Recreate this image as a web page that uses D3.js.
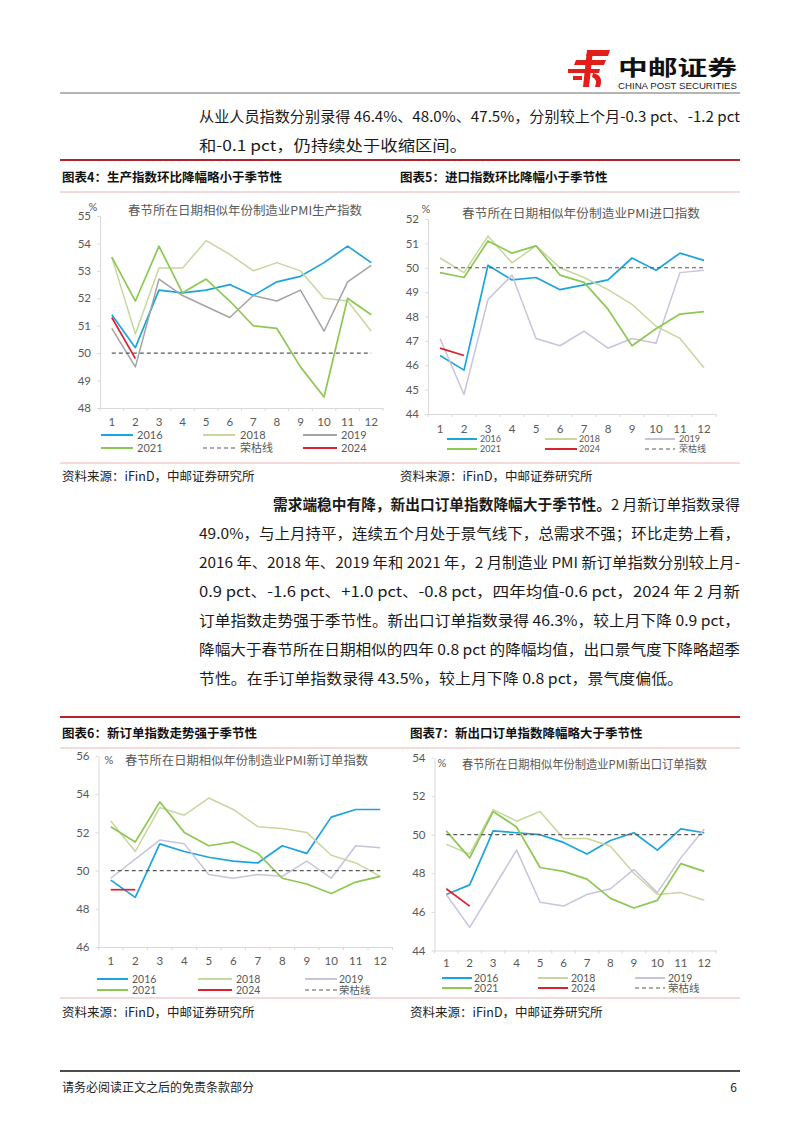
<!DOCTYPE html>
<html><head><meta charset="utf-8">
<script src="https://cdn.jsdelivr.net/npm/d3@7"></script>
<style>body{margin:0;background:#fff;} svg{display:block;}</style>
</head><body>
<svg id="page" width="802" height="1133"></svg>
<script>
// ---------- data ----------
const months = ["1","2","3","4","5","6","7","8","9","10","11","12"];
const threshold = 50;
// 图表4 生产指数
const prod2016 = [51.4,50.2,52.3,52.2,52.3,52.5,52.1,52.6,52.8,53.3,53.9,53.3];
const prod2018 = [53.5,50.7,53.1,53.1,54.1,53.6,53.0,53.3,53.0,52.0,51.9,50.8];
const prod2019 = [50.9,49.5,52.7,52.1,51.7,51.3,52.1,51.9,52.3,50.8,52.6,53.2];
const prod2021 = [53.5,51.9,53.9,52.2,52.7,51.9,51.0,50.9,49.5,48.4,52.0,51.4];
const prod2024 = [51.3,49.8];
const prodTicks = [48,49,50,51,52,53,54,55];
// 图表5 进口指数
const imp2016 = [46.4,45.8,50.1,49.5,49.6,49.1,49.3,49.5,50.4,49.9,50.6,50.3];
const imp2018 = [50.4,49.8,51.3,50.2,50.9,50.0,49.6,49.1,48.5,47.6,47.1,45.9];
const imp2019 = [47.1,44.8,48.7,49.7,47.1,46.8,47.4,46.7,47.1,46.9,49.8,49.9];
const imp2021 = [49.8,49.6,51.1,50.6,50.9,49.7,49.4,48.3,46.8,47.5,48.1,48.2];
const imp2024 = [46.7,46.4];
const impTicks = [44,45,46,47,48,49,50,51,52];
// 图表6 新订单指数
const ord2016 = [49.5,48.6,51.4,51.0,50.7,50.5,50.4,51.3,50.9,52.8,53.2,53.2];
const ord2018 = [52.6,51.0,53.3,52.9,53.8,53.2,52.3,52.2,52.0,50.8,50.4,49.7];
const ord2019 = [49.6,50.6,51.6,51.4,49.8,49.6,49.8,49.7,50.5,49.6,51.3,51.2];
const ord2021 = [52.3,51.5,53.6,52.0,51.3,51.5,50.9,49.6,49.3,48.8,49.4,49.7];
const ord2024 = [49.0,49.0];
const ordTicks = [46,48,50,52,54,56];
// 图表7 新出口订单指数
const exp2016 = [46.9,47.4,50.2,50.1,50.0,49.6,49.0,49.7,50.1,49.2,50.3,50.1];
const exp2018 = [49.5,49.0,51.3,50.7,51.2,49.8,49.8,49.4,48.0,46.9,47.0,46.6];
const exp2019 = [46.9,45.2,47.2,49.2,46.5,46.3,46.9,47.2,48.2,47.0,48.8,50.3];
const exp2021 = [50.2,48.8,51.2,50.4,48.3,48.1,47.7,46.7,46.2,46.6,48.5,48.1];
const exp2024 = [47.2,46.3];
const expTicks = [44,46,48,50,52,54];

// ---------- styles ----------
const CJK = "'Noto Sans CJK SC', sans-serif";
const NUM = "Lato, 'Noto Sans CJK SC', sans-serif";
const col = {y2016:"#1ca4de", y2018:"#c6d79f", y2019g:"#a3a3a3", y2019l:"#c9c3db", y2021:"#8dc852", y2024:"#de1f30", dash:"#595959"};

const svg = d3.select("#page");
svg.append("rect").attr("width",802).attr("height",1133).attr("fill","#fff");

// ---------- header / logo ----------
const logo = svg.append("g").attr("transform","translate(568,50)").attr("fill","#e31d1a");
[
  "M20,0 L42,0 L40,6 L18,6 Z",
  "M8,10 L38,10 L36,15 L6,15 Z",
  "M0,19 L32,19 L31,23 L0,23 Z",
  "M5,26 L14,26 L14,30 L5,30 Z",
  "M19,0 L25,0 L21,37 L15,37 Z",
  "M25,23 Q36,25 32,37 L27,37 Q30,29 24,27 Z"
].forEach(p=>logo.append("path").attr("d",p));
svg.append("text").attr("x",618).attr("y",75).attr("textLength",119).attr("lengthAdjust","spacingAndGlyphs")
  .style("font-family",CJK).style("font-weight","bold").style("font-size","21px").attr("fill","#111").text("中邮证券");
svg.append("text").attr("x",618).attr("y",89).attr("textLength",119).attr("lengthAdjust","spacingAndGlyphs")
  .style("font-family","'Liberation Sans', Arial, sans-serif").style("font-size","9px").attr("fill","#222").text("CHINA POST SECURITIES");
svg.append("line").attr("x1",60).attr("x2",740).attr("y1",93).attr("y2",93).attr("stroke","#444").attr("stroke-width",0.8);

// ---------- body text ----------
function textLine(x, y, parts, len) {
  const t = svg.append("text").attr("x",x).attr("y",y).style("font-family",CJK).style("font-size","14.5px").attr("fill","#1a1a1a");
  if (len) t.attr("textLength",len).attr("lengthAdjust","spacingAndGlyphs");
  parts.forEach(p=>{
    const s = t.append("tspan").text(p.t);
    if (p.b) s.style("font-weight","bold");
  });
}
textLine(199,122,[{t:"从业人员指数分别录得 46.4%、48.0%、47.5%，分别较上个月-0.3 pct、-1.2 pct"}],541);
textLine(199,151,[{t:"和-0.1 pct，仍持续处于收缩区间。"}],268);

const p2 = [
  {x:273, len:467, parts:[{t:"需求端稳中有降，新出口订单指数降幅大于季节性。",b:true},{t:"2 月新订单指数录得"}]},
  {x:199, len:541, parts:[{t:"49.0%，与上月持平，连续五个月处于景气线下，总需求不强；环比走势上看，"}]},
  {x:199, len:541, parts:[{t:"2016 年、2018 年、2019 年和 2021 年，2 月制造业 PMI 新订单指数分别较上月-"}]},
  {x:199, len:541, parts:[{t:"0.9 pct、-1.6 pct、+1.0 pct、-0.8 pct，四年均值-0.6 pct，2024 年 2 月新"}]},
  {x:199, len:541, parts:[{t:"订单指数走势强于季节性。新出口订单指数录得 46.3%，较上月下降 0.9  pct，"}]},
  {x:199, len:541, parts:[{t:"降幅大于春节所在日期相似的四年 0.8 pct 的降幅均值，出口景气度下降略超季"}]},
  {x:199, len:484, parts:[{t:"节性。在手订单指数录得 43.5%，较上月下降 0.8 pct，景气度偏低。"}]}
];
p2.forEach((l,i)=>textLine(l.x, 510+i*29, l.parts, l.len));

// ---------- section rules / captions ----------
function section(topY, titleY, pinkY, bottomPinkY, srcY, t1, t2, x2, src2x) {
  svg.append("line").attr("x1",60).attr("x2",740).attr("y1",topY).attr("y2",topY).attr("stroke","#b3232b").attr("stroke-width",2);
  svg.append("line").attr("x1",60).attr("x2",740).attr("y1",pinkY).attr("y2",pinkY).attr("stroke","#eab4b6").attr("stroke-width",1);
  svg.append("line").attr("x1",60).attr("x2",740).attr("y1",bottomPinkY).attr("y2",bottomPinkY).attr("stroke","#eab4b6").attr("stroke-width",1);
  [[62,t1],[x2,t2]].forEach(([x,t])=>svg.append("text").attr("x",x).attr("y",titleY).style("font-family",CJK)
    .style("font-size","12.5px").style("font-weight","bold").attr("fill","#111").text(t));
  [[62],[src2x]].forEach(([x])=>svg.append("text").attr("x",x).attr("y",srcY).style("font-family",CJK)
    .style("font-size","12.5px").attr("fill","#222").text("资料来源：iFinD，中邮证券研究所"));
}
section(160,182,192,463,481,"图表4：生产指数环比降幅略小于季节性","图表5：进口指数环比降幅小于季节性",400,400);
section(717,738,748,998,1017,"图表6：新订单指数走势强于季节性","图表7：新出口订单指数降幅略大于季节性",410,410);

// ---------- footer ----------
svg.append("line").attr("x1",60).attr("x2",740).attr("y1",1071).attr("y2",1071).attr("stroke","#111").attr("stroke-width",1.5);
svg.append("text").attr("x",62).attr("y",1092).style("font-family",CJK).style("font-size","12px").attr("fill","#222").text("请务必阅读正文之后的免责条款部分");
svg.append("text").attr("x",737).attr("y",1092).attr("text-anchor","end").style("font-family",CJK).style("font-size","12px").attr("fill","#222").text("6");

// ---------- charts ----------
function drawChart(cfg) {
  const g = svg.append("g");
  const x = d3.scaleBand().domain(months).range(cfg.xr);
  const y = d3.scaleLinear().domain(cfg.yd).range(cfg.yr);
  const cx = m => x(m) + x.bandwidth()/2;

  const ga = g.append("g").attr("transform",`translate(${cfg.xr[0]},0)`)
    .call(d3.axisLeft(y).tickValues(cfg.ticks).tickSize(3).tickSizeOuter(0).tickPadding(cfg.yPad).tickFormat(d3.format("d")));
  ga.select(".domain").attr("stroke","#d9d9d9");
  ga.selectAll(".tick line").attr("stroke","#d9d9d9");
  ga.selectAll(".tick text").attr("fill","#595959").style("font-size","11.5px").style("font-family",NUM);

  const gx = g.append("g").attr("transform",`translate(0,${cfg.yr[0]})`)
    .call(d3.axisBottom(x).tickSize(0).tickSizeOuter(0).tickPadding(cfg.xPad));
  gx.select(".domain").attr("stroke","#d9d9d9");
  gx.selectAll(".tick text").attr("fill","#595959").style("font-size","11.5px").style("font-family",NUM);
  g.selectAll("line.bt").data(months.concat(["end"])).join("line").attr("class","bt")
    .attr("x1",d=>d==="end"?cfg.xr[1]:x(d)).attr("x2",d=>d==="end"?cfg.xr[1]:x(d))
    .attr("y1",cfg.yr[0]).attr("y2",cfg.yr[0]+3).attr("stroke","#d9d9d9");

  const line = d3.line().x((d,i)=>cx(months[i])).y(d=>y(d));
  cfg.series.forEach(s=>{
    if (s.dash) {
      g.append("line").attr("x1",cx(months[0])).attr("x2",cx(months[months.length-1]))
        .attr("y1",y(threshold)).attr("y2",y(threshold)).attr("stroke",s.color).attr("stroke-width",1.2).attr("stroke-dasharray","4,3");
    } else {
      g.append("path").datum(s.values).attr("d",line).attr("fill","none").attr("stroke",s.color)
        .attr("stroke-width",s.w).attr("stroke-linejoin","round");
    }
  });

  // unit and title
  g.append("text").attr("x",cfg.pct[0]).attr("y",cfg.pct[1]).attr("text-anchor","middle").style("font-family",NUM)
    .style("font-size","11px").attr("fill","#595959").text("%");
  g.append("text").attr("x",cfg.title[0]).attr("y",cfg.title[1]).attr("textLength",cfg.title[2]).attr("lengthAdjust","spacingAndGlyphs")
    .style("font-family",CJK).style("font-size","12px").attr("fill","#595959").text(cfg.title[3]);

  // legend
  cfg.legend.forEach(l=>{
    const s = cfg.series.find(d=>d.name===l.name);
    const yy = cfg.legRows[l.row];
    const c = cfg.legCols[l.col];
    g.append("line").attr("x1",c[0]).attr("x2",c[1]).attr("y1",yy).attr("y2",yy).attr("stroke",s.color)
      .attr("stroke-width",s.dash?1.2:2).attr("stroke-dasharray",s.dash?"4,3":null);
    g.append("text").attr("x",c[2]).attr("y",yy).attr("dy","0.35em").style("font-family",NUM)
      .style("font-size",cfg.legFont).attr("fill","#595959").text(s.name);
  });
}

function mkSeries(a16,a18,a19,a21,a24,c19){
  return [
    {name:"2016",values:a16,color:col.y2016,w:1.7},
    {name:"2018",values:a18,color:col.y2018,w:1.5},
    {name:"2019",values:a19,color:c19,w:1.5},
    {name:"2021",values:a21,color:col.y2021,w:1.7},
    {name:"荣枯线",dash:true,color:col.dash},
    {name:"2024",values:a24,color:col.y2024,w:1.7}
  ];
}
const legA = [{name:"2016",row:0,col:0},{name:"2018",row:0,col:1},{name:"2019",row:0,col:2},
              {name:"2021",row:1,col:0},{name:"荣枯线",row:1,col:1},{name:"2024",row:1,col:2}];
const legB = [{name:"2016",row:0,col:0},{name:"2018",row:0,col:1},{name:"2019",row:0,col:2},
              {name:"2021",row:1,col:0},{name:"2024",row:1,col:1},{name:"荣枯线",row:1,col:2}];

drawChart({xr:[100,383], yd:[48,55], yr:[408,216], ticks:prodTicks, yPad:6, xPad:10,
  series:mkSeries(prod2016,prod2018,prod2019,prod2021,prod2024,col.y2019g),
  pct:[93,211], title:[128,215,234,"春节所在日期相似年份制造业PMI生产指数"],
  legend:legA, legRows:[435,448], legCols:[[101,133,137],[203,235,240],[303,337,341]], legFont:"11px"});

drawChart({xr:[428,716], yd:[44,52], yr:[414,219], ticks:impTicks, yPad:6, xPad:11,
  series:mkSeries(imp2016,imp2018,imp2019,imp2021,imp2024,col.y2019l),
  pct:[426,213], title:[462,218,238,"春节所在日期相似年份制造业PMI进口指数"],
  legend:legB, legRows:[439,449], legCols:[[447,477,480],[545,577,579],[645,675,679]], legFont:"9px"});

drawChart({xr:[98.5,392.5], yd:[46,56], yr:[947,756], ticks:ordTicks, yPad:6, xPad:10,
  series:mkSeries(ord2016,ord2018,ord2019,ord2021,ord2024,col.y2019l),
  pct:[109,764], title:[125,765,243,"春节所在日期相似年份制造业PMI新订单指数"],
  legend:legB, legRows:[979,990], legCols:[[97,128,132],[198,232,236],[305,337,339]], legFont:"10.5px"});

drawChart({xr:[434.5,716], yd:[44,54], yr:[950.5,757.5], ticks:expTicks, yPad:6, xPad:8,
  series:mkSeries(exp2016,exp2018,exp2019,exp2021,exp2024,col.y2019l),
  pct:[442,767], title:[462,769,245,"春节所在日期相似年份制造业PMI新出口订单指数"],
  legend:legB, legRows:[978,988], legCols:[[442,472,474],[538,568,571],[635,665,668]], legFont:"10.5px"});
</script>
</body></html>
